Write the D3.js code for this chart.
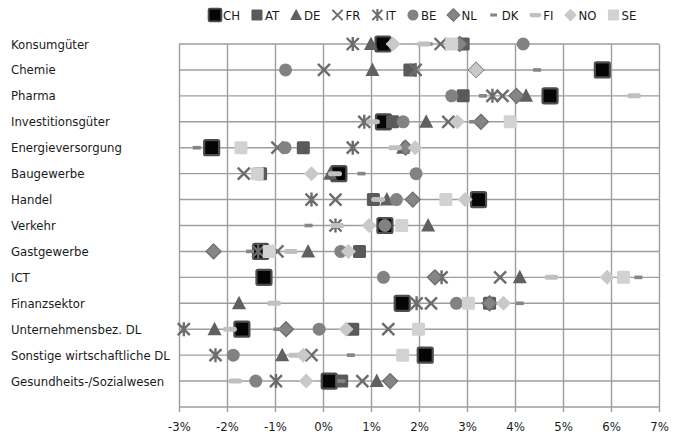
<!DOCTYPE html>
<html>
<head>
<meta charset="utf-8">
<script src="https://cdn.jsdelivr.net/npm/d3@7"></script>
<style>
  html, body { margin: 0; padding: 0; background: #fff; }
  svg { display: block; }
  text { font-family: "DejaVu Sans Condensed", "DejaVu Sans", sans-serif; fill: #1a1a1a; }
</style>
</head>
<body>
<svg id="chart" width="675" height="436"></svg>
<script>
// Branches, top to bottom
const categories = [
  "Konsumgüter", "Chemie", "Pharma", "Investitionsgüter", "Energieversorgung",
  "Baugewerbe", "Handel", "Verkehr", "Gastgewerbe", "ICT", "Finanzsektor",
  "Unternehmensbez. DL", "Sonstige wirtschaftliche DL", "Gesundheits-/Sozialwesen"
];

// Growth per country and branch, in percent (null = not shown)
const CH = [1.25, 5.82, 4.73, 1.26, -2.32, 0.33, 3.24, 1.29, -1.30, -1.23, 1.65, -1.69, 2.13, 0.13];
const AT = [2.92, 1.81, 2.92, 1.45, -0.41, -1.30, 1.05, null, 0.76, null, 3.47, 0.62, null, 0.39];
const DE = [1.00, 1.03, 4.23, 2.15, 1.67, 0.15, 1.33, 2.19, -0.31, 4.10, -1.75, -2.26, -0.85, 1.12];
const FR = [2.45, 0.02, 3.74, 2.61, -0.95, -1.65, 0.26, null, -0.95, 3.69, 2.25, 1.36, -0.24, 0.82];
const IT = [0.62, 1.93, 3.53, 0.86, 0.62, null, -0.24, 0.26, -1.35, 2.47, 1.95, -2.90, -2.24, -0.98];
const BE = [4.17, -0.78, 2.68, 1.67, -0.79, 1.94, 1.53, 1.29, 0.37, 1.26, 2.78, -0.08, -1.87, -1.40];
const NL = [2.85, 3.19, 4.03, 3.29, 1.72, null, 1.87, null, -2.28, 2.33, 3.47, -0.77, null, 1.40];
const DK = [2.20, 4.46, 3.33, 3.13, -2.63, 0.80, null, -0.30, -1.52, 6.57, 4.10, -0.95, 0.58, 0.38];
const FI = [2.10, null, 6.48, 1.04, 1.50, 0.25, 1.15, 0.30, -0.67, 4.76, -1.02, -1.94, -0.58, -1.83];
const NO = [1.46, 3.19, null, 2.80, 1.92, -0.24, 2.96, 0.96, 0.53, 5.92, 3.76, 0.48, -0.41, -0.35];
const SE = [2.68, null, null, 3.90, -1.71, -1.37, 2.56, 1.64, -1.12, 6.26, 3.03, 1.99, 1.66, null];

const tickValues = [-3, -2, -1, 0, 1, 2, 3, 4, 5, 6, 7];

// Series in drawing order; later series sit on top
const series = [
  { name: "CH", values: CH, shape: "chSquare" },
  { name: "AT", values: AT, shape: "square",   color: "#5a5a5a" },
  { name: "DE", values: DE, shape: "triangle", color: "#606060" },
  { name: "FR", values: FR, shape: "cross",    color: "#6c6c6c" },
  { name: "IT", values: IT, shape: "star",     color: "#6c6c6c" },
  { name: "BE", values: BE, shape: "circle",   color: "#828282" },
  { name: "NL", values: NL, shape: "diamond",  color: "#858585", stroke: "#6a6a6a" },
  { name: "DK", values: DK, shape: "dash",     color: "#858585" },
  { name: "FI", values: FI, shape: "bar",      color: "#c0c0c0" },
  { name: "NO", values: NO, shape: "diamond",  color: "#c9c9c9" },
  { name: "SE", values: SE, shape: "square",   color: "#d2d2d2" }
];

const svg = d3.select("#chart");
const plot = { left: 179, right: 659, top: 44, bottom: 407 };

const x = d3.scaleLinear().domain([-3, 7]).range([plot.left, plot.right]);
// categories sit on y = 14 … 1, axis runs 0 … 14
const y = d3.scaleLinear().domain([0, categories.length]).range([plot.bottom, plot.top]);
const rowY = i => y(categories.length - i);

const gridColor = "#9e9e9e";

// horizontal grid (one line per branch plus the baseline)
const g = svg.append("g");
g.selectAll("line.h")
  .data(d3.range(0, categories.length + 1))
  .join("line")
  .attr("x1", plot.left).attr("x2", plot.right)
  .attr("y1", d => y(d)).attr("y2", d => y(d))
  .attr("stroke", gridColor).attr("stroke-width", 1.4);

// x axis with full-height vertical grid
const xAxis = d3.axisBottom(x)
  .tickValues(tickValues)
  .tickFormat(d => d + "%")
  .tickSize(-(plot.bottom - plot.top))
  .tickSizeOuter(0);

const ax = svg.append("g")
  .attr("transform", `translate(0,${plot.bottom})`)
  .call(xAxis);
ax.select(".domain").remove();
ax.selectAll(".tick line").attr("stroke", gridColor).attr("stroke-width", 1.4)
  .attr("y1", 5);
ax.selectAll(".tick text")
  .attr("y", 20).attr("dy", "0.32em")
  .style("font-size", "13px")
  .style("font-family", "'DejaVu Sans Condensed', 'DejaVu Sans', sans-serif")
  .attr("fill", "#1a1a1a");

// branch labels
svg.append("g").selectAll("text")
  .data(categories)
  .join("text")
  .attr("x", 11)
  .attr("y", (d, i) => rowY(i))
  .attr("dy", "0.35em")
  .style("font-size", "13px")
  .text(d => d);

// marker drawing
function drawMarker(sel, s) {
  switch (s.shape) {
    case "chSquare":
      sel.append("rect").attr("x", -7.5).attr("y", -7.5).attr("width", 15).attr("height", 15)
        .attr("rx", 1.5).attr("fill", "#050505").attr("stroke", "#4e4e4e").attr("stroke-width", 2.2);
      break;
    case "square":
      sel.append("rect").attr("x", -6.5).attr("y", -6.5).attr("width", 13).attr("height", 13)
        .attr("rx", 1.5).attr("fill", s.color);
      break;
    case "triangle":
      sel.append("path").attr("d", "M0,-7.5L7,6L-7,6Z").attr("fill", s.color);
      break;
    case "cross":
      sel.append("path").attr("d", "M-6,-6L6,6M-6,6L6,-6")
        .attr("stroke", s.color).attr("stroke-width", 2.4).attr("fill", "none");
      break;
    case "star":
      sel.append("path").attr("d", "M-6,-6L6,6M-6,6L6,-6M0,-7L0,7")
        .attr("stroke", s.color).attr("stroke-width", 2.4).attr("fill", "none");
      break;
    case "circle":
      sel.append("circle").attr("r", 6.5).attr("fill", s.color);
      break;
    case "diamond":
      sel.append("path").attr("d", "M0,-7.5L7.5,0L0,7.5L-7.5,0Z").attr("fill", s.color)
        .attr("stroke", s.stroke || "none").attr("stroke-width", 1.2);
      break;
    case "dash":
      sel.append("rect").attr("x", -4).attr("y", -1.8).attr("width", 8).attr("height", 3.6)
        .attr("fill", s.color);
      break;
    case "bar":
      sel.append("rect").attr("x", -7).attr("y", -2.5).attr("width", 14).attr("height", 5)
        .attr("rx", 2.5).attr("fill", s.color);
      break;
  }
}

// points
const pts = svg.append("g");
series.forEach(s => {
  const data = s.values.map((v, i) => ({ v, i })).filter(d => d.v !== null);
  pts.append("g").selectAll("g")
    .data(data)
    .join("g")
    .attr("transform", d => `translate(${x(d.v)},${rowY(d.i)})`)
    .each(function () { drawMarker(d3.select(this), s); });
});

// legend
const legend = svg.append("g").attr("transform", "translate(215,15)");
let lx = 0;
series.forEach(s => {
  const item = legend.append("g").attr("transform", `translate(${lx},0)`);
  const m = item.append("g").attr("transform", "scale(0.85)");
  drawMarker(m, s);
  const t = item.append("text").attr("x", 8).attr("dy", "0.35em")
    .style("font-size", "13px").text(s.name);
  const w = t.node().getComputedTextLength();
  lx += 8 + w + 17;
});
</script>
</body>
</html>
